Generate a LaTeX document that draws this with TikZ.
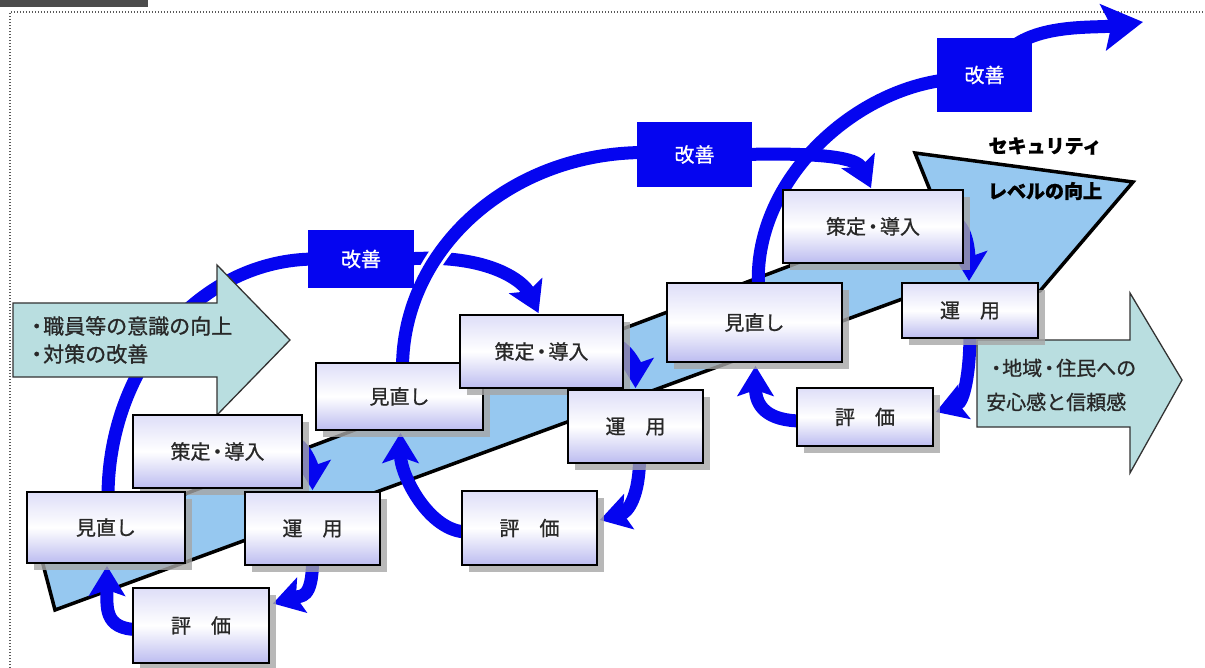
\documentclass[tikz,border=0pt]{standalone}
\usepackage{fontspec}
\setmainfont{Noto Sans CJK JP}[FakeBold=0.9]
\usetikzlibrary{arrows.meta,shadows,calc}
\pgfdeclarelayer{bandlayer}
\pgfdeclarelayer{arclayer}
\pgfdeclarelayer{arrowlayer}
\pgfsetlayers{bandlayer,arclayer,arrowlayer,main}
\definecolor{loopblue}{RGB}{5,5,240}
\definecolor{bandblue}{RGB}{150,200,240}
\definecolor{tealfill}{RGB}{185,222,224}
\definecolor{txt}{RGB}{40,40,40}
\definecolor{boxtop}{RGB}{222,222,248}
\definecolor{boxbot}{RGB}{188,188,240}
\newcommand{\ndot}{\kern-3pt・\kern-3pt}
\begin{document}
\begin{tikzpicture}[x=1pt,y=-1pt,
  procbox/.style={draw=black, line width=1.8pt, top color=boxtop, bottom color=boxbot, middle color=white,
    drop shadow={shadow xshift=7pt, shadow yshift=-7pt, fill=black!35, opacity=0.8},
    inner sep=0pt, font=\fontsize{20}{24}\selectfont, text=txt},
  kaizen/.style={fill=loopblue, draw=none, inner sep=0pt, text=white, font=\fontsize{20}{24}\selectfont},
  loop/.style={draw=loopblue, line width=13pt, -{Stealth[length=30pt,width=36pt,inset=6pt]}},
  loopnohead/.style={draw=loopblue, line width=13pt},
  casing/.style={draw=white, line width=22pt},
  bigarrow/.style={draw=black!80, line width=1.3pt, fill=tealfill, line join=miter},
  frameline/.style={draw=black!65, line width=1.3pt, dash pattern=on 1.3pt off 1.7pt},
  seclabel/.style={font=\fontsize{19}{22}\selectfont\bfseries, text=black, inner sep=0pt},
  arrowtext/.style={font=\fontsize{21}{28}\selectfont, text=txt, align=left, anchor=west, inner sep=0pt},
]
\useasboundingbox (0,0) rectangle (1205,668);

% process boxes
\node[procbox, minimum width=169pt, minimum height=73pt] (s1) at (217.5,451.5) {策定\ndot 導入};
\node[procbox, minimum width=158pt, minimum height=71pt] (m1) at (106,527.5) {見直し};
\node[procbox, minimum width=135pt, minimum height=73pt] (u1) at (312.5,528.5) {運　用};
\node[procbox, minimum width=136pt, minimum height=75pt] (h1) at (201,625.5) {評　価};

\node[procbox, minimum width=167pt, minimum height=67pt] (m2) at (399.5,396.5) {見直し};
\node[procbox, minimum width=163pt, minimum height=73pt] (s2) at (541.5,351.5) {策定\ndot 導入};
\node[procbox, minimum width=135pt, minimum height=73pt] (u2) at (635.5,426.5) {運　用};
\node[procbox, minimum width=135pt, minimum height=74pt] (h2) at (529.5,528) {評　価};

\node[procbox, minimum width=175pt, minimum height=79pt] (m3) at (754.5,322.5) {見直し};
\node[procbox, minimum width=180pt, minimum height=73pt] (s3) at (873,226.5) {策定\ndot 導入};
\node[procbox, minimum width=136pt, minimum height=55pt] (u3) at (970,310.5) {運　用};
\node[procbox, minimum width=136pt, minimum height=58pt] (h3) at (865,417) {評　価};

% improvement boxes
\node[kaizen, minimum width=106pt, minimum height=58pt] (k1) at (361,259) {改善};
\node[kaizen, minimum width=115pt, minimum height=65pt] (k2) at (694.5,154.5) {改善};
\node[kaizen, minimum width=95pt, minimum height=74pt] (k3) at (984.5,75) {改善};

\coordinate (exit) at (1143,22);

% security label
\node[seclabel] (sec1) at (1045,146) {セキュリティ};
\node[seclabel] (sec2) at (1045,191) {レベルの向上};

\begin{pgfonlayer}{bandlayer}
  \fill[black!70] (0,0) rectangle (148,7);
  \draw[frameline] (10,668) -- (10,12) -- (1205,12);
  \draw[fill=bandblue, line width=3.5pt, line join=miter]
    (55,610) -- (905,298) -- (1040,291) -- (1133,182) -- (915,153) -- (938,210) -- (39,549) -- cycle;
\end{pgfonlayer}

\begin{pgfonlayer}{arclayer}
  % cycle 1
  \draw[loop] ($(s1.east)+(-12,-10)$) .. controls +(14,2) and +(0,-22) .. ($(u1.north)+(0,-1)$);
  \draw[loop] ($(u1.south)+(0,-6)$) .. controls +(0,40) and +(28,-8) .. ($(h1.east)+(3,-22)$);
  \draw[loop] ($(h1.west)+(6,4)$) .. controls +(-35,0) and +(0,40) .. ($(m1.south)+(1,2)$);
  \draw[loopnohead] ($(m1.north)+(2,6)$) .. controls +(0,-132) and +(-115,0) .. ($(k1.west)+(8,0)$);
  \draw[loop] ($(k1.east)+(-8,0)$) .. controls +(85,-6) and +(-14,-30) .. ($(s2.north)+(-3,-1)$);
  % cycle 2
  \draw[loop] ($(s2.east)+(-12,-8)$) .. controls +(14,2) and +(0,-22) .. ($(u2.north)+(0,-1)$);
  \draw[loop] ($(u2.south)+(4,-6)$) .. controls +(0,38) and +(28,-8) .. ($(h2.east)+(2,-8)$);
  \draw[loop] ($(h2.west)+(6,4)$) .. controls +(-38,0) and +(0,42) .. ($(m2.south)+(1,2)$);
  \draw[casing, line width=19pt] ($(m2.north)+(3,6)$) .. controls +(0,-120) and +(-134,0) .. ($(k2.west)+(8,-2)$);
  \draw[loopnohead] ($(m2.north)+(3,6)$) .. controls +(0,-120) and +(-134,0) .. ($(k2.west)+(8,-2)$);
  \draw[loop] ($(k2.east)+(-8,0)$) .. controls +(80,-2) and +(-14,-30) .. ($(s3.north)+(-2,-1)$);
  % cycle 3
  \draw[loop] ($(s3.east)+(-12,-6)$) .. controls +(16,4) and +(0,-25) .. ($(u3.north)+(-1,-1)$);
  \draw[loop] ($(u3.south)+(0,-6)$) .. controls +(0,40) and +(28,-10) .. ($(h3.east)+(2,-5)$);
  \draw[loop] ($(h3.west)+(6,4)$) .. controls +(-35,0) and +(0,40) .. ($(m3.south)+(1,3)$);
  \draw[loopnohead] ($(m3.north)+(4,6)$) .. controls +(-6,-105) and +(-95,12) .. ($(k3.west)+(8,5)$);
  \draw[loop, -{Stealth[length=40pt,width=46pt,inset=8pt]}] ($(k3.north east)+(-18,8)$) .. controls +(30,-22) and +(-45,6) .. (exit);
\end{pgfonlayer}

\begin{pgfonlayer}{arrowlayer}
  \draw[bigarrow] (13,303) -- (217,303) -- (217,265) -- (290,340) -- (217,415) -- (217,377) -- (13,377) -- cycle;
  \draw[bigarrow] (977,340) -- (1130,340) -- (1130,293) -- (1182,380) -- (1130,473) -- (1130,427) -- (977,427) -- cycle;
\end{pgfonlayer}

\node[arrowtext] (lefttext) at (26,340) {・\kern-4pt 職員等の意識の向上\\・\kern-4pt 対策の改善};
\node[arrowtext, font=\fontsize{20}{34}\selectfont] (righttext) at (986,385) {・\kern-4pt 地域\ndot 住民への\\安心感と信頼感};
\end{tikzpicture}
\end{document}
